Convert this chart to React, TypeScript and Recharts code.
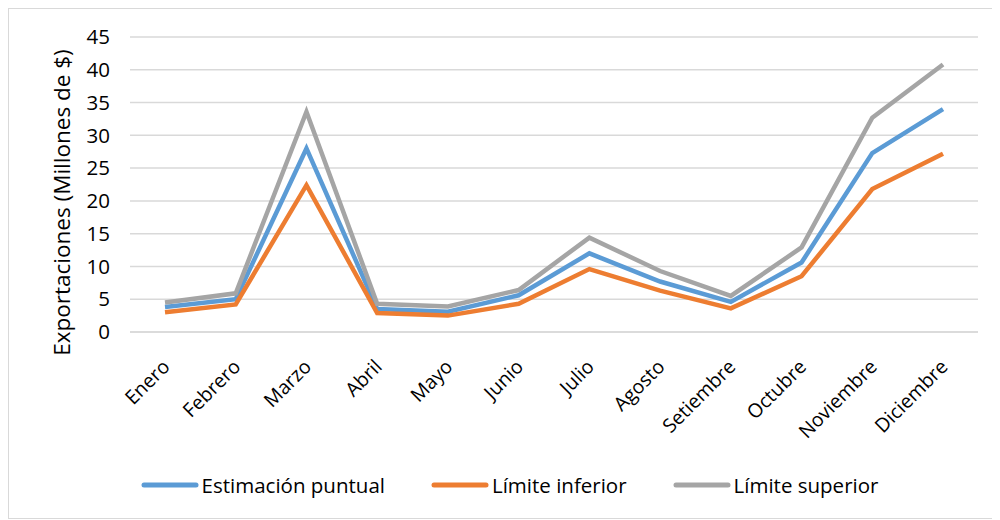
import { LineChart, Line, XAxis, YAxis, CartesianGrid } from "recharts";

const months = [
  "Enero", "Febrero", "Marzo", "Abril", "Mayo", "Junio",
  "Julio", "Agosto", "Setiembre", "Octubre", "Noviembre", "Diciembre",
];
const estimacion = [3.8, 5.0, 28.0, 3.5, 3.1, 5.6, 12.0, 7.7, 4.6, 10.6, 27.3, 34.0];
const inferior = [3.0, 4.2, 22.4, 2.9, 2.5, 4.3, 9.6, 6.3, 3.6, 8.5, 21.8, 27.2];
const superior = [4.5, 5.9, 33.6, 4.3, 3.9, 6.4, 14.4, 9.3, 5.5, 12.9, 32.7, 40.8];
const yTicks = [0, 5, 10, 15, 20, 25, 30, 35, 40, 45];

const data = months.map((m, i) => ({
  month: m,
  est: estimacion[i],
  inf: inferior[i],
  sup: superior[i],
}));

const series = [
  { key: "est", name: "Estimación puntual", color: "#5B9BD5" },
  { key: "inf", name: "Límite inferior", color: "#ED7D31" },
  { key: "sup", name: "Límite superior", color: "#A5A5A5" },
];

const FONT = "'Open Sans', sans-serif";

const MonthTick = (props: any) => {
  const { x, y, payload } = props;
  const tx = x + 6;
  const ty = y + 28;
  return (
    <text
      x={tx}
      y={ty}
      transform={`rotate(-45, ${tx}, ${ty})`}
      textAnchor="end"
      fontSize={19.5}
      fill="#000"
      fontFamily={FONT}
    >
      {payload.value}
    </text>
  );
};

const App = () => {
  return (
    <div
      style={{
        position: "relative",
        width: 985,
        height: 511,
        border: "1px solid #D9D9D9",
        boxSizing: "border-box",
        background: "#fff",
        fontFamily: FONT,
      }}
    >
      <LineChart
        width={983}
        height={509}
        data={data}
        margin={{ top: 28, right: 14, left: 0, bottom: 0 }}
      >
        <CartesianGrid vertical={false} stroke="#D9D9D9" strokeWidth={1.5} />
        <XAxis
          dataKey="month"
          height={186}
          interval={0}
          padding={{ left: 35, right: 35 }}
          tickLine={false}
          axisLine={{ stroke: "#D9D9D9", strokeWidth: 1.5 }}
          tick={<MonthTick />}
        />
        <YAxis
          width={121}
          domain={[0, 45]}
          ticks={yTicks}
          interval={0}
          tickLine={false}
          axisLine={false}
          tickSize={0}
          tickMargin={20}
          tick={{ fontSize: 20.5, fill: "#000", fontFamily: FONT }}
          label={{
            value: "Exportaciones (Millones de $)",
            angle: -90,
            position: "insideLeft",
            dx: 48,
            dy: 18,
            style: { fontSize: 22.5, fill: "#000", fontFamily: FONT, textAnchor: "middle" },
          }}
        />
        {series.map((s) => (
          <Line
            key={s.key}
            type="linear"
            dataKey={s.key}
            name={s.name}
            stroke={s.color}
            strokeWidth={4.5}
            dot={false}
            activeDot={false}
            isAnimationActive={false}
          />
        ))}
      </LineChart>
      <div
        style={{
          position: "absolute",
          top: 462,
          left: 0,
          width: "100%",
          boxSizing: "border-box",
          paddingLeft: 18,
          display: "flex",
          justifyContent: "center",
          gap: 46,
          fontSize: 20.5,
          color: "#000",
        }}
      >
        {series.map((s) => (
          <div key={s.key} style={{ display: "flex", alignItems: "center" }}>
            <svg width={58} height={10} style={{ marginRight: 3 }}>
              <line x1={3} y1={5} x2={55} y2={5} stroke={s.color} strokeWidth={5} strokeLinecap="round" />
            </svg>
            <span>{s.name}</span>
          </div>
        ))}
      </div>
    </div>
  );
};

export default App;
